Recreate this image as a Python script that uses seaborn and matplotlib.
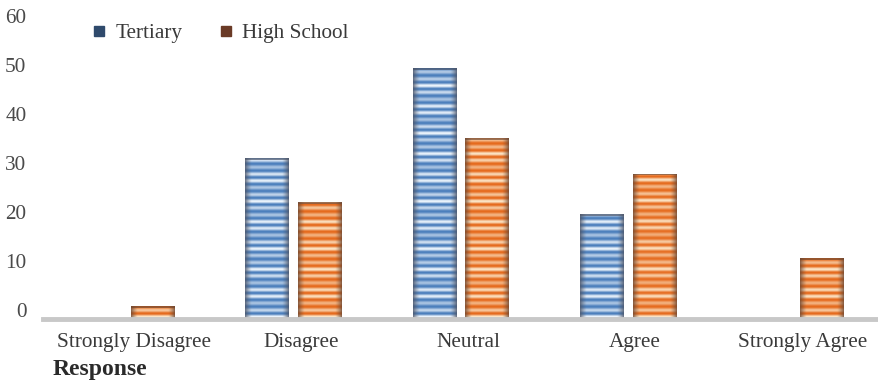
import numpy as np
import pandas as pd
import matplotlib
matplotlib.use("Agg")
import matplotlib.pyplot as plt
from matplotlib.lines import Line2D
from matplotlib.transforms import ScaledTranslation
import seaborn as sns

# Survey responses (% of each education group)
responses = ["Strongly Disagree", "Disagree", "Neutral", "Agree", "Strongly Agree"]
tertiary = [0.0, 32.8, 51.2, 21.4, 0.0]
high_school = [2.6, 23.8, 36.9, 29.6, 12.4]
groups = ["Tertiary", "High School"]
y_ticks = [0, 10, 20, 30, 40, 50, 60]

df = pd.DataFrame({
    "Response": responses * 2,
    "Percent": tertiary + high_school,
    "Group": [groups[0]] * len(responses) + [groups[1]] * len(responses),
})

sns.set_theme(style="white")
plt.rcParams["font.family"] = ["Liberation Serif", "DejaVu Serif"]

fig = plt.figure(figsize=(8.79, 3.85), dpi=100)
ax = fig.add_axes([43 / 879, 66 / 385, 836 / 879, 294 / 385])

sns.barplot(data=df, x="Response", y="Percent", hue="Group", order=responses,
            hue_order=groups, palette=["#5b8cc6", "#ee8a3e"], width=0.632,
            gap=0.17, legend=False, ax=ax, errorbar=None, saturation=1)

# Striped, edge-shaded fill for every bar
stripe_cols = {
    0: (np.array([0.30, 0.50, 0.74]), np.array([0.93, 0.96, 0.99])),
    1: (np.array([0.90, 0.42, 0.12]), np.array([0.99, 0.90, 0.78])),
}
edge_dark = {0: np.array([0.30, 0.33, 0.40]), 1: np.array([0.42, 0.28, 0.20])}

n_per_group = len(responses)
px_per_unit = 294 / 60
for i, patch in enumerate(ax.patches[: 2 * n_per_group]):
    h = patch.get_height()
    if h <= 0:
        continue
    g = i // n_per_group
    x0, w, y0 = patch.get_x(), patch.get_width(), patch.get_y()
    nrows = max(int(round(h * px_per_unit)), 2)
    ncols = 44
    r = np.arange(nrows)[::-1].astype(float)
    t = 0.5 + 0.5 * np.sin(2 * np.pi * r / 6.8)
    t = 0.55 * t + 0.45 * (0.5 + 0.5 * np.sin(2 * np.pi * r / 23.0 + 1.0)) * t
    t = np.clip(t, 0, 1)
    dark, light = stripe_cols[g]
    rows = dark[None, :] * (1 - t[:, None]) + light[None, :] * t[:, None]
    xs = np.linspace(-1, 1, ncols)
    shade = np.clip((np.abs(xs) - 0.7) / 0.3, 0, 1) ** 1.3 * 0.75
    img = rows[:, None, :] * (1 - shade[None, :, None]) + edge_dark[g][None, None, :] * shade[None, :, None]
    img[0:2, :, :] = img[0:2, :, :] * 0.35 + edge_dark[g] * 0.65
    patch.set_facecolor("none")
    patch.set_edgecolor("none")
    im = ax.imshow(img, extent=(x0, x0 + w, y0, y0 + h), aspect="auto",
                   interpolation="bilinear", zorder=2)
    im.set_clip_path(patch)

ax.set_xlim(-0.5, len(responses) - 0.5)
ax.set_ylim(0, 60)
ax.set_yticks(y_ticks)
ax.set_yticklabels([str(v) for v in y_ticks])
ax.set_xlabel("")
ax.set_ylabel("")

for s in ["top", "right", "left"]:
    ax.spines[s].set_visible(False)
ax.spines["bottom"].set_color("#c8c8c8")
ax.spines["bottom"].set_linewidth(3.5)
ax.spines["bottom"].set_zorder(3)

ax.tick_params(axis="x", length=0, pad=20, labelsize=15.3, labelcolor="#3a3a3a")
ax.tick_params(axis="y", length=0, pad=12, labelsize=15.3, labelcolor="#4a4a4a")
xshift = ScaledTranslation(0.07, 0, fig.dpi_scale_trans)
for lab in ax.get_xticklabels():
    lab.set_verticalalignment("baseline")
    lab.set_transform(lab.get_transform() + xshift)
yshift = ScaledTranslation(0, 0.09, fig.dpi_scale_trans)
for lab in ax.get_yticklabels():
    lab.set_transform(lab.get_transform() + yshift)

handles = [
    Line2D([], [], marker="s", linestyle="none", markersize=6.5,
           markerfacecolor="#2f4a6c", markeredgecolor="#2f4a6c", label=groups[0]),
    Line2D([], [], marker="s", linestyle="none", markersize=6.5,
           markerfacecolor="#6a3a26", markeredgecolor="#6a3a26", label=groups[1]),
]
ax.legend(handles=handles, loc="center left", bbox_to_anchor=(93 / 879, 1 - 33 / 385),
          bbox_transform=fig.transFigure, ncol=2, frameon=False, fontsize=15.3,
          handlelength=0.6, handletextpad=0.45, columnspacing=1.75, borderpad=0,
          borderaxespad=0, labelcolor="#3a3a3a")

fig.text(53 / 879, 1 - 370 / 385, "Response", ha="left", va="center",
         fontsize=17, fontweight="bold", color="#2a2a2a")

fig.savefig("out.png", dpi=100)
